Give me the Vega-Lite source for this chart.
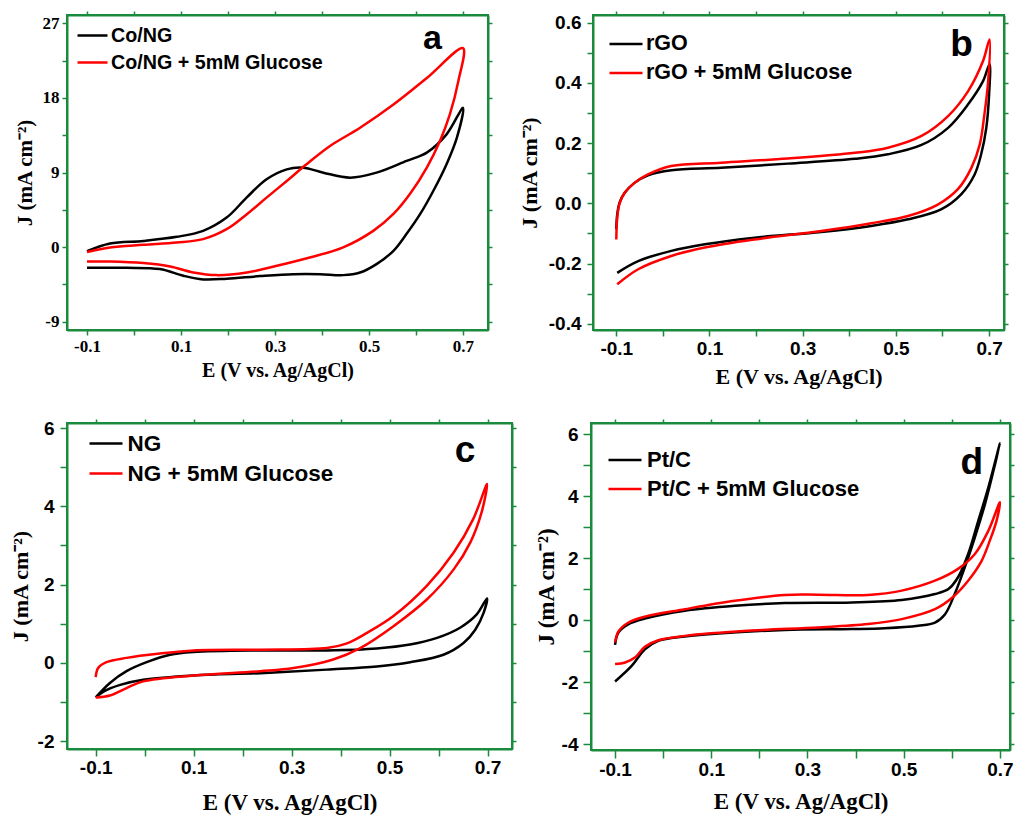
{
"$schema": "https://vega.github.io/schema/vega-lite/v6.json",
"background": "white",
"padding": {"left": 8, "top": 9, "right": 0, "bottom": 0},
"config": {
 "view": {"stroke": "#1a8a3c", "strokeWidth": 2},
 "axis": {"domainColor": "#1a8a3c", "domainWidth": 2, "tickColor": "#1a8a3c", "tickWidth": 1.5, "grid": false, "labelColor": "black", "titleColor": "black", "labelOverlap": false, "labelFlush": false, "titleFont": "Liberation Serif", "titleFontWeight": "bold", "minExtent": 0, "labelFontWeight": "bold"},
 "legend": {"orient": "none", "title": null, "symbolType": "stroke", "symbolStrokeWidth": 2.5, "labelFont": "Liberation Sans", "labelFontWeight": "bold", "labelLimit": 400, "padding": 0, "labelColor": "black"},
 "text": {"font": "Liberation Sans", "fontWeight": "bold", "align": "right", "baseline": "alphabetic", "color": "black"}
},
"datasets": {
 "a": [
  {"s":"Co/NG","i":0,"E":-0.1,"J":-0.5},{"s":"Co/NG","i":1,"E":-0.051,"J":0.43},{"s":"Co/NG","i":2,"E":0.02,"J":0.75},{"s":"Co/NG","i":3,"E":0.091,"J":1.24},{"s":"Co/NG","i":4,"E":0.147,"J":1.96},{"s":"Co/NG","i":5,"E":0.197,"J":3.56},{"s":"Co/NG","i":6,"E":0.24,"J":6.0},{"s":"Co/NG","i":7,"E":0.282,"J":8.18},{"s":"Co/NG","i":8,"E":0.325,"J":9.38},{"s":"Co/NG","i":9,"E":0.36,"J":9.58},{"s":"Co/NG","i":10,"E":0.403,"J":8.98},{"s":"Co/NG","i":11,"E":0.46,"J":8.38},{"s":"Co/NG","i":12,"E":0.516,"J":8.98},{"s":"Co/NG","i":13,"E":0.58,"J":10.4},{"s":"Co/NG","i":14,"E":0.623,"J":11.4},{"s":"Co/NG","i":15,"E":0.665,"J":13.6},{"s":"Co/NG","i":16,"E":0.7,"J":16.8},
  {"s":"Co/NG","i":17,"E":0.687,"J":13.2},{"s":"Co/NG","i":18,"E":0.665,"J":10.0},{"s":"Co/NG","i":19,"E":0.637,"J":6.8},{"s":"Co/NG","i":20,"E":0.609,"J":4.0},{"s":"Co/NG","i":21,"E":0.58,"J":1.6},{"s":"Co/NG","i":22,"E":0.552,"J":-0.45},{"s":"Co/NG","i":23,"E":0.516,"J":-2.05},{"s":"Co/NG","i":24,"E":0.481,"J":-3.06},{"s":"Co/NG","i":25,"E":0.445,"J":-3.38},{"s":"Co/NG","i":26,"E":0.396,"J":-3.26},{"s":"Co/NG","i":27,"E":0.339,"J":-3.26},{"s":"Co/NG","i":28,"E":0.268,"J":-3.5},{"s":"Co/NG","i":29,"E":0.197,"J":-3.82},{"s":"Co/NG","i":30,"E":0.147,"J":-3.9},{"s":"Co/NG","i":31,"E":0.105,"J":-3.46},{"s":"Co/NG","i":32,"E":0.055,"J":-2.65},{"s":"Co/NG","i":33,"E":-0.016,"J":-2.5},{"s":"Co/NG","i":34,"E":-0.1,"J":-2.5},
  {"s":"Co/NG + 5mM Glucose","i":0,"E":-0.1,"J":-0.6},{"s":"Co/NG + 5mM Glucose","i":1,"E":-0.051,"J":-0.05},{"s":"Co/NG + 5mM Glucose","i":2,"E":0.02,"J":0.27},{"s":"Co/NG + 5mM Glucose","i":3,"E":0.091,"J":0.55},{"s":"Co/NG + 5mM Glucose","i":4,"E":0.147,"J":0.96},{"s":"Co/NG + 5mM Glucose","i":5,"E":0.197,"J":2.16},{"s":"Co/NG + 5mM Glucose","i":6,"E":0.24,"J":3.97},{"s":"Co/NG + 5mM Glucose","i":7,"E":0.282,"J":5.97},{"s":"Co/NG + 5mM Glucose","i":8,"E":0.325,"J":7.98},{"s":"Co/NG + 5mM Glucose","i":9,"E":0.367,"J":9.99},{"s":"Co/NG + 5mM Glucose","i":10,"E":0.417,"J":12.2},{"s":"Co/NG + 5mM Glucose","i":11,"E":0.481,"J":14.4},{"s":"Co/NG + 5mM Glucose","i":12,"E":0.552,"J":17.2},{"s":"Co/NG + 5mM Glucose","i":13,"E":0.623,"J":20.4},{"s":"Co/NG + 5mM Glucose","i":14,"E":0.7,"J":24.0},
  {"s":"Co/NG + 5mM Glucose","i":15,"E":0.69,"J":20.0},{"s":"Co/NG + 5mM Glucose","i":16,"E":0.672,"J":16.0},{"s":"Co/NG + 5mM Glucose","i":17,"E":0.651,"J":12.8},{"s":"Co/NG + 5mM Glucose","i":18,"E":0.623,"J":9.6},{"s":"Co/NG + 5mM Glucose","i":19,"E":0.587,"J":6.4},{"s":"Co/NG + 5mM Glucose","i":20,"E":0.552,"J":4.0},{"s":"Co/NG + 5mM Glucose","i":21,"E":0.509,"J":1.96},{"s":"Co/NG + 5mM Glucose","i":22,"E":0.445,"J":-0.03},{"s":"Co/NG + 5mM Glucose","i":23,"E":0.374,"J":-1.26},{"s":"Co/NG + 5mM Glucose","i":24,"E":0.304,"J":-2.26},{"s":"Co/NG + 5mM Glucose","i":25,"E":0.24,"J":-3.06},{"s":"Co/NG + 5mM Glucose","i":26,"E":0.176,"J":-3.38},{"s":"Co/NG + 5mM Glucose","i":27,"E":0.126,"J":-3.06},{"s":"Co/NG + 5mM Glucose","i":28,"E":0.077,"J":-2.34},{"s":"Co/NG + 5mM Glucose","i":29,"E":0.02,"J":-1.93},{"s":"Co/NG + 5mM Glucose","i":30,"E":-0.051,"J":-1.74},{"s":"Co/NG + 5mM Glucose","i":31,"E":-0.1,"J":-1.74}
 ],
 "b": [
  {"s":"rGO","i":0,"E":-0.1,"J":-0.086},{"s":"rGO","i":1,"E":-0.098,"J":-0.037},{"s":"rGO","i":2,"E":-0.093,"J":0.002},{"s":"rGO","i":3,"E":-0.082,"J":0.035},{"s":"rGO","i":4,"E":-0.061,"J":0.068},{"s":"rGO","i":5,"E":-0.032,"J":0.093},{"s":"rGO","i":6,"E":0.018,"J":0.11},{"s":"rGO","i":7,"E":0.125,"J":0.118},{"s":"rGO","i":8,"E":0.268,"J":0.132},{"s":"rGO","i":9,"E":0.412,"J":0.148},{"s":"rGO","i":10,"E":0.483,"J":0.163},{"s":"rGO","i":11,"E":0.555,"J":0.194},{"s":"rGO","i":12,"E":0.612,"J":0.251},{"s":"rGO","i":13,"E":0.655,"J":0.329},{"s":"rGO","i":14,"E":0.687,"J":0.406},{"s":"rGO","i":15,"E":0.701,"J":0.462},
  {"s":"rGO","i":16,"E":0.7,"J":0.362},{"s":"rGO","i":17,"E":0.694,"J":0.251},{"s":"rGO","i":18,"E":0.683,"J":0.163},{"s":"rGO","i":19,"E":0.669,"J":0.096},{"s":"rGO","i":20,"E":0.64,"J":0.03},{"s":"rGO","i":21,"E":0.597,"J":-0.02},{"s":"rGO","i":22,"E":0.526,"J":-0.053},{"s":"rGO","i":23,"E":0.447,"J":-0.075},{"s":"rGO","i":24,"E":0.34,"J":-0.095},{"s":"rGO","i":25,"E":0.197,"J":-0.114},{"s":"rGO","i":26,"E":0.09,"J":-0.136},{"s":"rGO","i":27,"E":0.018,"J":-0.158},{"s":"rGO","i":28,"E":-0.053,"J":-0.192},{"s":"rGO","i":29,"E":-0.098,"J":-0.231},
  {"s":"rGO + 5mM Glucose","i":0,"E":-0.1,"J":-0.12},{"s":"rGO + 5mM Glucose","i":1,"E":-0.098,"J":-0.048},{"s":"rGO + 5mM Glucose","i":2,"E":-0.093,"J":0.0},{"s":"rGO + 5mM Glucose","i":3,"E":-0.082,"J":0.035},{"s":"rGO + 5mM Glucose","i":4,"E":-0.061,"J":0.068},{"s":"rGO + 5mM Glucose","i":5,"E":-0.032,"J":0.096},{"s":"rGO + 5mM Glucose","i":6,"E":0.018,"J":0.124},{"s":"rGO + 5mM Glucose","i":7,"E":0.125,"J":0.135},{"s":"rGO + 5mM Glucose","i":8,"E":0.268,"J":0.149},{"s":"rGO + 5mM Glucose","i":9,"E":0.412,"J":0.168},{"s":"rGO + 5mM Glucose","i":10,"E":0.483,"J":0.185},{"s":"rGO + 5mM Glucose","i":11,"E":0.555,"J":0.224},{"s":"rGO + 5mM Glucose","i":12,"E":0.612,"J":0.29},{"s":"rGO + 5mM Glucose","i":13,"E":0.655,"J":0.373},{"s":"rGO + 5mM Glucose","i":14,"E":0.687,"J":0.473},{"s":"rGO + 5mM Glucose","i":15,"E":0.701,"J":0.545},
  {"s":"rGO + 5mM Glucose","i":16,"E":0.698,"J":0.406},{"s":"rGO + 5mM Glucose","i":17,"E":0.69,"J":0.296},{"s":"rGO + 5mM Glucose","i":18,"E":0.68,"J":0.196},{"s":"rGO + 5mM Glucose","i":19,"E":0.662,"J":0.118},{"s":"rGO + 5mM Glucose","i":20,"E":0.633,"J":0.047},{"s":"rGO + 5mM Glucose","i":21,"E":0.59,"J":-0.004},{"s":"rGO + 5mM Glucose","i":22,"E":0.526,"J":-0.042},{"s":"rGO + 5mM Glucose","i":23,"E":0.447,"J":-0.066},{"s":"rGO + 5mM Glucose","i":24,"E":0.34,"J":-0.092},{"s":"rGO + 5mM Glucose","i":25,"E":0.197,"J":-0.12},{"s":"rGO + 5mM Glucose","i":26,"E":0.09,"J":-0.147},{"s":"rGO + 5mM Glucose","i":27,"E":0.018,"J":-0.175},{"s":"rGO + 5mM Glucose","i":28,"E":-0.053,"J":-0.219},{"s":"rGO + 5mM Glucose","i":29,"E":-0.098,"J":-0.269}
 ],
 "c": [
  {"s":"NG","i":0,"E":-0.1,"J":-0.88},{"s":"NG","i":1,"E":-0.071,"J":-0.51},{"s":"NG","i":2,"E":-0.037,"J":-0.21},{"s":"NG","i":3,"E":0.004,"J":0.02},{"s":"NG","i":4,"E":0.052,"J":0.21},{"s":"NG","i":5,"E":0.1,"J":0.28},{"s":"NG","i":6,"E":0.236,"J":0.32},{"s":"NG","i":7,"E":0.372,"J":0.32},{"s":"NG","i":8,"E":0.474,"J":0.37},{"s":"NG","i":9,"E":0.542,"J":0.47},{"s":"NG","i":10,"E":0.597,"J":0.64},{"s":"NG","i":11,"E":0.644,"J":0.9},{"s":"NG","i":12,"E":0.678,"J":1.24},{"s":"NG","i":13,"E":0.699,"J":1.65},
  {"s":"NG","i":14,"E":0.692,"J":1.28},{"s":"NG","i":15,"E":0.675,"J":0.85},{"s":"NG","i":16,"E":0.651,"J":0.51},{"s":"NG","i":17,"E":0.61,"J":0.21},{"s":"NG","i":18,"E":0.542,"J":0.02},{"s":"NG","i":19,"E":0.474,"J":-0.09},{"s":"NG","i":20,"E":0.372,"J":-0.17},{"s":"NG","i":21,"E":0.236,"J":-0.26},{"s":"NG","i":22,"E":0.1,"J":-0.32},{"s":"NG","i":23,"E":-0.003,"J":-0.43},{"s":"NG","i":24,"E":-0.05,"J":-0.56},{"s":"NG","i":25,"E":-0.084,"J":-0.73},{"s":"NG","i":26,"E":-0.1,"J":-0.88},
  {"s":"NG + 5mM Glucose","i":0,"E":-0.1,"J":-0.36},{"s":"NG + 5mM Glucose","i":1,"E":-0.095,"J":-0.13},{"s":"NG + 5mM Glucose","i":2,"E":-0.078,"J":0.02},{"s":"NG + 5mM Glucose","i":3,"E":-0.037,"J":0.13},{"s":"NG + 5mM Glucose","i":4,"E":0.031,"J":0.24},{"s":"NG + 5mM Glucose","i":5,"E":0.1,"J":0.32},{"s":"NG + 5mM Glucose","i":6,"E":0.236,"J":0.34},{"s":"NG + 5mM Glucose","i":7,"E":0.372,"J":0.38},{"s":"NG + 5mM Glucose","i":8,"E":0.413,"J":0.5},{"s":"NG + 5mM Glucose","i":9,"E":0.454,"J":0.77},{"s":"NG + 5mM Glucose","i":10,"E":0.508,"J":1.2},{"s":"NG + 5mM Glucose","i":11,"E":0.576,"J":1.97},{"s":"NG + 5mM Glucose","i":12,"E":0.631,"J":2.82},{"s":"NG + 5mM Glucose","i":13,"E":0.671,"J":3.68},{"s":"NG + 5mM Glucose","i":14,"E":0.699,"J":4.57},
  {"s":"NG + 5mM Glucose","i":15,"E":0.688,"J":3.85},{"s":"NG + 5mM Glucose","i":16,"E":0.665,"J":3.08},{"s":"NG + 5mM Glucose","i":17,"E":0.631,"J":2.39},{"s":"NG + 5mM Glucose","i":18,"E":0.576,"J":1.62},{"s":"NG + 5mM Glucose","i":19,"E":0.508,"J":0.94},{"s":"NG + 5mM Glucose","i":20,"E":0.44,"J":0.38},{"s":"NG + 5mM Glucose","i":21,"E":0.385,"J":0.09},{"s":"NG + 5mM Glucose","i":22,"E":0.304,"J":-0.13},{"s":"NG + 5mM Glucose","i":23,"E":0.236,"J":-0.21},{"s":"NG + 5mM Glucose","i":24,"E":0.1,"J":-0.32},{"s":"NG + 5mM Glucose","i":25,"E":-0.003,"J":-0.47},{"s":"NG + 5mM Glucose","i":26,"E":-0.037,"J":-0.64},{"s":"NG + 5mM Glucose","i":27,"E":-0.071,"J":-0.83},{"s":"NG + 5mM Glucose","i":28,"E":-0.1,"J":-0.88}
 ],
 "d": [
  {"s":"Pt/C","i":0,"E":-0.1,"J":-0.8},{"s":"Pt/C","i":1,"E":-0.093,"J":-0.4},{"s":"Pt/C","i":2,"E":-0.072,"J":-0.13},{"s":"Pt/C","i":3,"E":-0.038,"J":0.05},{"s":"Pt/C","i":4,"E":0.045,"J":0.3},{"s":"Pt/C","i":5,"E":0.149,"J":0.46},{"s":"Pt/C","i":6,"E":0.253,"J":0.55},{"s":"Pt/C","i":7,"E":0.392,"J":0.57},{"s":"Pt/C","i":8,"E":0.496,"J":0.65},{"s":"Pt/C","i":9,"E":0.565,"J":0.84},{"s":"Pt/C","i":10,"E":0.593,"J":1.0},{"s":"Pt/C","i":11,"E":0.613,"J":1.38},{"s":"Pt/C","i":12,"E":0.634,"J":2.13},{"s":"Pt/C","i":13,"E":0.655,"J":3.2},{"s":"Pt/C","i":14,"E":0.676,"J":4.28},{"s":"Pt/C","i":15,"E":0.7,"J":5.7},
  {"s":"Pt/C","i":16,"E":0.69,"J":5.03},{"s":"Pt/C","i":17,"E":0.669,"J":3.74},{"s":"Pt/C","i":18,"E":0.648,"J":2.67},{"s":"Pt/C","i":19,"E":0.627,"J":1.7},{"s":"Pt/C","i":20,"E":0.606,"J":0.84},{"s":"Pt/C","i":21,"E":0.586,"J":0.19},{"s":"Pt/C","i":22,"E":0.565,"J":-0.08},{"s":"Pt/C","i":23,"E":0.53,"J":-0.18},{"s":"Pt/C","i":24,"E":0.461,"J":-0.26},{"s":"Pt/C","i":25,"E":0.392,"J":-0.29},{"s":"Pt/C","i":26,"E":0.253,"J":-0.32},{"s":"Pt/C","i":27,"E":0.115,"J":-0.43},{"s":"Pt/C","i":28,"E":0.045,"J":-0.53},{"s":"Pt/C","i":29,"E":-0.01,"J":-0.67},{"s":"Pt/C","i":30,"E":-0.038,"J":-0.94},{"s":"Pt/C","i":31,"E":-0.065,"J":-1.47},{"s":"Pt/C","i":32,"E":-0.1,"J":-1.98},
  {"s":"Pt/C + 5mM Glucose","i":0,"E":-0.1,"J":-0.72},{"s":"Pt/C + 5mM Glucose","i":1,"E":-0.093,"J":-0.37},{"s":"Pt/C + 5mM Glucose","i":2,"E":-0.072,"J":-0.08},{"s":"Pt/C + 5mM Glucose","i":3,"E":-0.038,"J":0.11},{"s":"Pt/C + 5mM Glucose","i":4,"E":0.045,"J":0.35},{"s":"Pt/C + 5mM Glucose","i":5,"E":0.149,"J":0.62},{"s":"Pt/C + 5mM Glucose","i":6,"E":0.253,"J":0.81},{"s":"Pt/C + 5mM Glucose","i":7,"E":0.322,"J":0.82},{"s":"Pt/C + 5mM Glucose","i":8,"E":0.426,"J":0.81},{"s":"Pt/C + 5mM Glucose","i":9,"E":0.496,"J":0.95},{"s":"Pt/C + 5mM Glucose","i":10,"E":0.565,"J":1.27},{"s":"Pt/C + 5mM Glucose","i":11,"E":0.613,"J":1.65},{"s":"Pt/C + 5mM Glucose","i":12,"E":0.648,"J":2.13},{"s":"Pt/C + 5mM Glucose","i":13,"E":0.676,"J":2.88},{"s":"Pt/C + 5mM Glucose","i":14,"E":0.7,"J":3.8},
  {"s":"Pt/C + 5mM Glucose","i":15,"E":0.693,"J":3.2},{"s":"Pt/C + 5mM Glucose","i":16,"E":0.679,"J":2.56},{"s":"Pt/C + 5mM Glucose","i":17,"E":0.662,"J":1.91},{"s":"Pt/C + 5mM Glucose","i":18,"E":0.634,"J":1.27},{"s":"Pt/C + 5mM Glucose","i":19,"E":0.6,"J":0.71},{"s":"Pt/C + 5mM Glucose","i":20,"E":0.565,"J":0.35},{"s":"Pt/C + 5mM Glucose","i":21,"E":0.496,"J":0.03},{"s":"Pt/C + 5mM Glucose","i":22,"E":0.426,"J":-0.13},{"s":"Pt/C + 5mM Glucose","i":23,"E":0.322,"J":-0.24},{"s":"Pt/C + 5mM Glucose","i":24,"E":0.184,"J":-0.34},{"s":"Pt/C + 5mM Glucose","i":25,"E":0.045,"J":-0.51},{"s":"Pt/C + 5mM Glucose","i":26,"E":-0.01,"J":-0.65},{"s":"Pt/C + 5mM Glucose","i":27,"E":-0.038,"J":-0.86},{"s":"Pt/C + 5mM Glucose","i":28,"E":-0.058,"J":-1.2},{"s":"Pt/C + 5mM Glucose","i":29,"E":-0.079,"J":-1.37},{"s":"Pt/C + 5mM Glucose","i":30,"E":-0.1,"J":-1.42}
 ]
},
"resolve": {"scale": {"color": "independent"}, "legend": {"color": "independent"}},
"spacing": 29,
"vconcat": [
 {
  "spacing": 23,
  "resolve": {"scale": {"color": "independent"}, "legend": {"color": "independent"}},
  "hconcat": [
   {
    "width": 421, "height": 315,
    "data": {"name": "a"},
    "resolve": {"axis": {"x": "independent", "y": "independent"}},
    "layer": [
     {
      "mark": {"type": "line", "strokeWidth": 2.5, "interpolate": "catmull-rom"},
      "encoding": {
       "x": {"field": "E", "type": "quantitative", "scale": {"domain": [-0.1426, 0.7532], "nice": false, "zero": false},
        "axis": {"orient": "bottom", "values": [-0.1,0,0.1,0.2,0.3,0.4,0.5,0.6,0.7], "labelExpr": "abs(round(datum.value*10)) % 2 == 1 ? '' + datum.value : ''", "labelFont": "Liberation Serif", "labelFontSize": 17, "tickSize": 5, "labelPadding": 3, "title": "E (V vs. Ag/AgCl)", "titleFontSize": 20, "titlePadding": 6}},
       "y": {"field": "J", "type": "quantitative", "scale": {"domain": [-10, 28], "nice": false, "zero": false},
        "axis": {"orient": "left", "values": [-9,-4.5,0,4.5,9,13.5,18,22.5,27], "labelExpr": "round(datum.value) % 9 == 0 ? '' + datum.value : ''", "labelFont": "Liberation Serif", "labelFontSize": 17, "tickSize": 5, "labelPadding": 3, "title": "J (mA cm⁻²)", "titleFontSize": 21, "titlePadding": 7}},
       "color": {"field": "s", "type": "nominal", "scale": {"domain": ["Co/NG", "Co/NG + 5mM Glucose"], "range": ["#000000", "#ff0000"]},
        "legend": {"legendX": 9, "legendY": 4, "symbolSize": 900, "labelFontSize": 19.7, "labelOffset": 2, "rowPadding": -8}},
       "order": {"field": "i", "type": "quantitative"}
      }
     },
     {
      "data": {"values": [{}]},
      "mark": {"type": "text", "fontSize": 34},
      "encoding": {"x": {"datum": 0.655, "type": "quantitative", "axis": null}, "y": {"datum": 23.87, "type": "quantitative", "axis": null}, "text": {"value": "a"}}
     },
     {
      "mark": {"type": "point", "opacity": 0},
      "encoding": {
       "x": {"field": "E", "type": "quantitative", "scale": {"domain": [-0.1426, 0.7532], "nice": false, "zero": false},
        "axis": {"orient": "top", "values": [-0.1,0,0.1,0.2,0.3,0.4,0.5,0.6,0.7], "labels": false, "title": null, "tickSize": 4}},
       "y": {"field": "J", "type": "quantitative", "scale": {"domain": [-10, 28], "nice": false, "zero": false},
        "axis": {"orient": "right", "values": [-9,-4.5,0,4.5,9,13.5,18,22.5,27], "labels": false, "title": null, "tickSize": 4}}
      }
     }
    ]
   },
   {
    "width": 411, "height": 315,
    "data": {"name": "b"},
    "resolve": {"axis": {"x": "independent", "y": "independent"}},
    "layer": [
     {
      "mark": {"type": "line", "strokeWidth": 2.5, "interpolate": "catmull-rom"},
      "encoding": {
       "x": {"field": "E", "type": "quantitative", "scale": {"domain": [-0.15, 0.732], "nice": false, "zero": false},
        "axis": {"orient": "bottom", "values": [-0.1,0,0.1,0.2,0.3,0.4,0.5,0.6,0.7], "labelExpr": "abs(round(datum.value*10)) % 2 == 1 ? '' + datum.value : ''", "labelFont": "Liberation Sans", "labelFontSize": 19, "tickSize": 6, "labelPadding": 3, "title": "E (V vs. Ag/AgCl)", "titleFontSize": 22, "titlePadding": 8}},
       "y": {"field": "J", "type": "quantitative", "scale": {"domain": [-0.421, 0.626], "nice": false, "zero": false},
        "axis": {"orient": "left", "values": [-0.4,-0.3,-0.2,-0.1,0,0.1,0.2,0.3,0.4,0.5,0.6], "labelExpr": "round(datum.value*10) % 2 == 0 ? replace(format(datum.value, '.1f'), '\u2212', '-') : ''", "labelFont": "Liberation Sans", "labelFontSize": 19, "tickSize": 6, "labelPadding": 6, "title": "J (mA cm⁻²)", "titleFontSize": 22, "titlePadding": 7}},
       "color": {"field": "s", "type": "nominal", "scale": {"domain": ["rGO", "rGO + 5mM Glucose"], "range": ["#000000", "#ff0000"]},
        "legend": {"legendX": 15, "legendY": 11, "symbolSize": 1089, "labelFontSize": 21.5, "labelOffset": 2, "rowPadding": -7.6}},
       "order": {"field": "i", "type": "quantitative"}
      }
     },
     {
      "data": {"values": [{}]},
      "mark": {"type": "text", "fontSize": 37},
      "encoding": {"x": {"datum": 0.665, "type": "quantitative", "axis": null}, "y": {"datum": 0.489, "type": "quantitative", "axis": null}, "text": {"value": "b"}}
     },
     {
      "mark": {"type": "point", "opacity": 0},
      "encoding": {
       "x": {"field": "E", "type": "quantitative", "scale": {"domain": [-0.15, 0.732], "nice": false, "zero": false},
        "axis": {"orient": "top", "values": [-0.1,0,0.1,0.2,0.3,0.4,0.5,0.6,0.7], "labels": false, "title": null, "tickSize": 4}},
       "y": {"field": "J", "type": "quantitative", "scale": {"domain": [-0.421, 0.626], "nice": false, "zero": false},
        "axis": {"orient": "right", "values": [-0.4,-0.3,-0.2,-0.1,0,0.1,0.2,0.3,0.4,0.5,0.6], "labels": false, "title": null, "tickSize": 4}}
      }
     }
    ]
   }
  ]
 },
 {
  "spacing": 16,
  "resolve": {"scale": {"color": "independent"}, "legend": {"color": "independent"}},
  "hconcat": [
   {
    "width": 445, "height": 326,
    "data": {"name": "c"},
    "resolve": {"axis": {"x": "independent", "y": "independent"}},
    "layer": [
     {
      "mark": {"type": "line", "strokeWidth": 2.5, "interpolate": "catmull-rom"},
      "encoding": {
       "x": {"field": "E", "type": "quantitative", "scale": {"domain": [-0.1586, 0.75], "nice": false, "zero": false},
        "axis": {"orient": "bottom", "values": [-0.1,0,0.1,0.2,0.3,0.4,0.5,0.6,0.7], "labelExpr": "abs(round(datum.value*10)) % 2 == 1 ? '' + datum.value : ''", "labelFont": "Liberation Sans", "labelFontSize": 19, "tickSize": 7, "labelPadding": 2.5, "title": "E (V vs. Ag/AgCl)", "titleFontSize": 23, "titlePadding": 14}},
       "y": {"field": "J", "type": "quantitative", "scale": {"domain": [-2.197, 6.128], "nice": false, "zero": false},
        "axis": {"orient": "left", "values": [-2,-1,0,1,2,3,4,5,6], "labelExpr": "round(datum.value) % 2 == 0 ? '' + datum.value : ''", "labelFont": "Liberation Sans", "labelFontSize": 19, "tickSize": 7, "labelPadding": 6, "title": "J (mA cm⁻²)", "titleFontSize": 22, "titlePadding": 5}},
       "color": {"field": "s", "type": "nominal", "scale": {"domain": ["NG", "NG + 5mM Glucose"], "range": ["#000000", "#ff0000"]},
        "legend": {"legendX": 21, "legendY": 2.5, "symbolSize": 1089, "labelFontSize": 22.5, "labelOffset": 3.6, "rowPadding": -7.6}},
       "order": {"field": "i", "type": "quantitative"}
      }
     },
     {
      "data": {"values": [{}]},
      "mark": {"type": "text", "fontSize": 37},
      "encoding": {"x": {"datum": 0.675, "type": "quantitative", "axis": null}, "y": {"datum": 5.124, "type": "quantitative", "axis": null}, "text": {"value": "c"}}
     },
     {
      "mark": {"type": "point", "opacity": 0},
      "encoding": {
       "x": {"field": "E", "type": "quantitative", "scale": {"domain": [-0.1586, 0.75], "nice": false, "zero": false},
        "axis": {"orient": "top", "values": [-0.1,0,0.1,0.2,0.3,0.4,0.5,0.6,0.7], "labels": false, "title": null, "tickSize": 4}},
       "y": {"field": "J", "type": "quantitative", "scale": {"domain": [-2.197, 6.128], "nice": false, "zero": false},
        "axis": {"orient": "right", "values": [-2,-1,0,1,2,3,4,5,6], "labels": false, "title": null, "tickSize": 4}}
      }
     }
    ]
   },
   {
    "width": 419, "height": 327,
    "data": {"name": "d"},
    "resolve": {"axis": {"x": "independent", "y": "independent"}},
    "layer": [
     {
      "mark": {"type": "line", "strokeWidth": 2.5, "interpolate": "catmull-rom"},
      "encoding": {
       "x": {"field": "E", "type": "quantitative", "scale": {"domain": [-0.15, 0.721], "nice": false, "zero": false},
        "axis": {"orient": "bottom", "values": [-0.1,0,0.1,0.2,0.3,0.4,0.5,0.6,0.7], "labelExpr": "abs(round(datum.value*10)) % 2 == 1 ? '' + datum.value : ''", "labelFont": "Liberation Sans", "labelFontSize": 19, "tickSize": 8, "labelPadding": 2.4, "title": "E (V vs. Ag/AgCl)", "titleFontSize": 23, "titlePadding": 10.6}},
       "y": {"field": "J", "type": "quantitative", "scale": {"domain": [-4.19, 6.355], "nice": false, "zero": false},
        "axis": {"orient": "left", "values": [-4,-3,-2,-1,0,1,2,3,4,5,6], "labelExpr": "round(datum.value) % 2 == 0 ? '' + datum.value : ''", "labelFont": "Liberation Sans", "labelFontSize": 19, "tickSize": 8, "labelPadding": 5, "title": "J (mA cm⁻²)", "titleFontSize": 23, "titlePadding": 3}},
       "color": {"field": "s", "type": "nominal", "scale": {"domain": ["Pt/C", "Pt/C + 5mM Glucose"], "range": ["#000000", "#ff0000"]},
        "legend": {"legendX": 16, "legendY": 19, "symbolSize": 1089, "labelFontSize": 22, "labelOffset": 4, "rowPadding": -5.6}},
       "order": {"field": "i", "type": "quantitative"}
      }
     },
     {
      "data": {"values": [{}]},
      "mark": {"type": "text", "fontSize": 37},
      "encoding": {"x": {"datum": 0.665, "type": "quantitative", "axis": null}, "y": {"datum": 4.71, "type": "quantitative", "axis": null}, "text": {"value": "d"}}
     },
     {
      "mark": {"type": "point", "opacity": 0},
      "encoding": {
       "x": {"field": "E", "type": "quantitative", "scale": {"domain": [-0.15, 0.721], "nice": false, "zero": false},
        "axis": {"orient": "top", "values": [-0.1,0,0.1,0.2,0.3,0.4,0.5,0.6,0.7], "labels": false, "title": null, "tickSize": 4}},
       "y": {"field": "J", "type": "quantitative", "scale": {"domain": [-4.19, 6.355], "nice": false, "zero": false},
        "axis": {"orient": "right", "values": [-4,-3,-2,-1,0,1,2,3,4,5,6], "labels": false, "title": null, "tickSize": 4}}
      }
     }
    ]
   }
  ]
 }
]
}
